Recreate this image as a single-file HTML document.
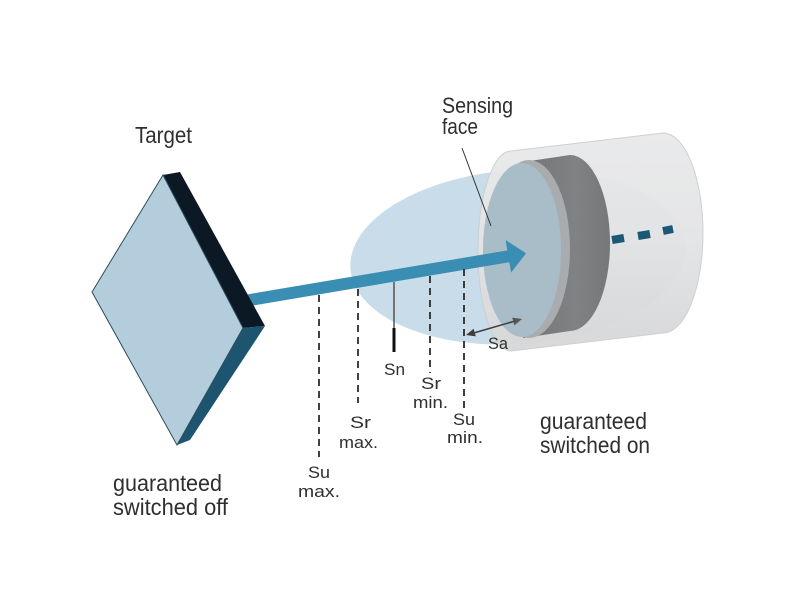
<!DOCTYPE html>
<html>
<head>
<meta charset="utf-8">
<style>
  html,body{margin:0;padding:0;background:#fff;}
  svg{display:block;}
  text{font-family:"Liberation Sans",Arial,sans-serif;fill:#2f2f2f;}
</style>
</head>
<body>
<svg width="800" height="600" viewBox="0 0 800 600" xmlns="http://www.w3.org/2000/svg">
  <defs>
    <linearGradient id="house" x1="0" y1="0" x2="0" y2="1">
      <stop offset="0" stop-color="#e8e9ea"/>
      <stop offset="0.5" stop-color="#e3e4e5"/>
      <stop offset="1" stop-color="#d6d7d8"/>
    </linearGradient>
    <linearGradient id="band" x1="0" y1="0" x2="1" y2="0">
      <stop offset="0" stop-color="#6f7173"/>
      <stop offset="0.6" stop-color="#7e8082"/>
      <stop offset="1" stop-color="#727476"/>
    </linearGradient>
    <pattern id="knurl" width="3" height="3" patternUnits="userSpaceOnUse">
      <rect width="3" height="3" fill="none"/>
      <path d="M0,3 L3,0" stroke="#8c8e90" stroke-width="0.6"/>
    </pattern>
  </defs>

  <!-- sensing field -->
  <ellipse cx="518" cy="257" rx="168" ry="87" transform="rotate(-4 518 257)" fill="#c8dce9"/>

  <!-- housing -->
  <path d="M511,151 L663,133 A40,100 0 0 1 663,333 L511,351 A33,100 0 0 1 511,151 Z" fill="url(#house)" stroke="#cdcecf" stroke-width="1" opacity="0.95"/>
  <!-- knurled band -->
  <path d="M523,162 L570,155 A40,88 0 0 1 570,331 L523,338 Z" fill="url(#band)"/>
  <path d="M523,162 L570,155 A40,88 0 0 1 570,331 L523,338 Z" fill="url(#knurl)" opacity="0.5"/>
  <!-- rim -->
  <ellipse cx="529" cy="249" rx="41" ry="89" fill="#a9acaf"/>
  <!-- sensing face -->
  <ellipse cx="522" cy="250" rx="39" ry="87" fill="#a9bdc9"/>

  <!-- dark dashes on housing -->
  <line x1="612" y1="240" x2="624" y2="238" stroke="#1b5874" stroke-width="8"/>
  <line x1="638" y1="236" x2="650" y2="234" stroke="#1b5874" stroke-width="8"/>
  <line x1="663" y1="231" x2="673" y2="229" stroke="#1b5874" stroke-width="8"/>

  <!-- arrow -->
  <g transform="translate(250,300) rotate(-9.6)">
    <rect x="-6" y="-6" width="270" height="12" fill="#3a8db3"/>
    <polygon points="262,-16.5 280,0 262,16.5" fill="#3a8db3"/>
  </g>

  <!-- target -->
  <polygon points="163,175 180,172 265,326 243,328" fill="#0c1823"/>
  <polygon points="243,328 265,326 190,440 177,445" fill="#1d5571"/>
  <polygon points="163,175 92,292 177,445 243,328" fill="#b4cddc" stroke="#2c4d5a" stroke-width="1"/>

  <!-- dashed lines -->
  <g stroke="#2b2b2b" stroke-width="1.8" stroke-dasharray="7 5">
    <line x1="319" y1="295" x2="319" y2="457"/>
    <line x1="358" y1="289" x2="358" y2="403"/>
    <line x1="430" y1="276" x2="430" y2="373"/>
    <line x1="464" y1="269" x2="464" y2="410"/>
  </g>
  <!-- Sn -->
  <line x1="394" y1="282" x2="394" y2="328" stroke="#555" stroke-width="1.5"/>
  <line x1="394" y1="328" x2="394" y2="352" stroke="#111" stroke-width="3"/>

  <!-- Sa arrow -->
  <line x1="472" y1="333.5" x2="515" y2="321" stroke="#3d3d3d" stroke-width="1.5"/>
  <polygon points="466,335 475.8,336.4 473.6,328.7" fill="#3d3d3d"/>
  <polygon points="522,319 514.4,325.3 512.2,317.6" fill="#555"/>

  <!-- leader for sensing face -->
  <line x1="462" y1="148" x2="491" y2="226" stroke="#333" stroke-width="1"/>

  <!-- big labels -->
  <text x="135" y="143" font-size="23" textLength="57" lengthAdjust="spacingAndGlyphs">Target</text>
  <text x="442" y="113" font-size="22" textLength="71" lengthAdjust="spacingAndGlyphs">Sensing</text>
  <text x="442" y="134" font-size="22" textLength="36" lengthAdjust="spacingAndGlyphs">face</text>
  <text x="113" y="491" font-size="23" textLength="109" lengthAdjust="spacingAndGlyphs">guaranteed</text>
  <text x="113" y="515" font-size="23" textLength="115" lengthAdjust="spacingAndGlyphs">switched off</text>
  <text x="540" y="429" font-size="23" textLength="107" lengthAdjust="spacingAndGlyphs">guaranteed</text>
  <text x="540" y="453" font-size="23" textLength="110" lengthAdjust="spacingAndGlyphs">switched on</text>

  <!-- small labels -->
  <g font-size="17">
    <text x="384" y="375" textLength="21" lengthAdjust="spacingAndGlyphs">Sn</text>
    <text x="421" y="389" textLength="20" lengthAdjust="spacingAndGlyphs">Sr</text>
    <text x="413" y="408" textLength="35" lengthAdjust="spacingAndGlyphs">min.</text>
    <text x="453" y="425" textLength="22" lengthAdjust="spacingAndGlyphs">Su</text>
    <text x="447" y="443" textLength="36" lengthAdjust="spacingAndGlyphs">min.</text>
    <text x="350" y="428" textLength="21" lengthAdjust="spacingAndGlyphs">Sr</text>
    <text x="339" y="448" textLength="39" lengthAdjust="spacingAndGlyphs">max.</text>
    <text x="308" y="478" textLength="22" lengthAdjust="spacingAndGlyphs">Su</text>
    <text x="298" y="497" textLength="42" lengthAdjust="spacingAndGlyphs">max.</text>
    <text x="488" y="349" textLength="20" lengthAdjust="spacingAndGlyphs">Sa</text>
  </g>
</svg>
</body>
</html>
